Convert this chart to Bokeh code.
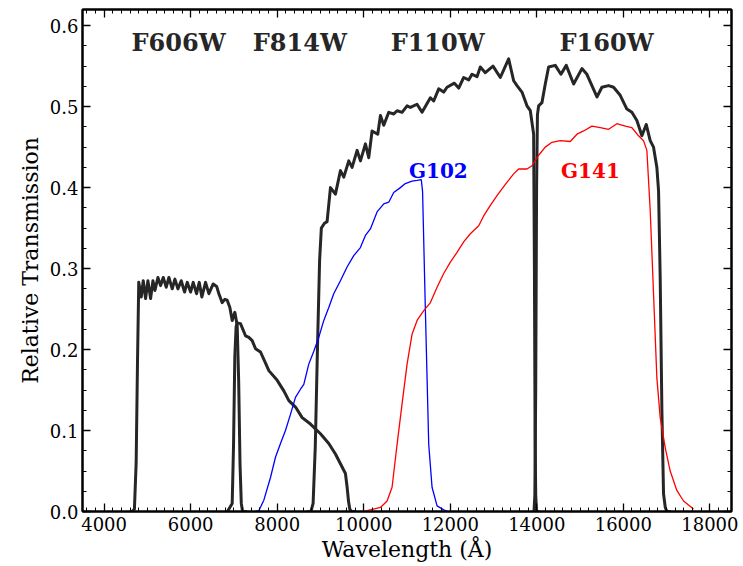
from bokeh.plotting import figure
from bokeh.models import Range1d, FixedTicker, LinearAxis, PrintfTickFormatter, CustomJSTickFormatter
from bokeh.core.properties import value
from bokeh.embed import file_html
from bokeh.resources import INLINE

# ---------------- data (wavelength in Angstrom, relative transmission) ----------------
f606w_wave = [4600, 4650, 4700, 4740, 4770, 4800, 4858, 4904, 4958, 5012, 5074, 5128, 5174,
              5243, 5305, 5366, 5436, 5497, 5574, 5636, 5705, 5782, 5859, 5921, 5998, 6059,
              6136, 6198, 6259, 6344, 6421, 6521, 6600, 6652, 6729, 6790, 6844, 6906, 6960,
              7021, 7075, 7110, 7140, 7170, 7200, 7300]
f606w_trans = [0, 0, 0.003, 0.06, 0.18, 0.283, 0.265, 0.285, 0.263, 0.285, 0.263, 0.285, 0.273,
               0.289, 0.279, 0.289, 0.277, 0.289, 0.275, 0.287, 0.275, 0.285, 0.271, 0.283, 0.271,
               0.283, 0.269, 0.283, 0.265, 0.283, 0.269, 0.281, 0.278, 0.269, 0.258, 0.262, 0.261,
               0.252, 0.236, 0.246, 0.23, 0.16, 0.06, 0.01, 0, 0]

f814w_wave = [6850, 6960, 6990, 7020, 7050, 7075, 7152, 7268, 7345, 7422, 7499, 7614, 7707,
              7807, 8000, 8153, 8269, 8423, 8577, 8769, 9000, 9192, 9346, 9500, 9577, 9616,
              9650, 9677, 9720, 9800]
f814w_trans = [0, 0.01, 0.08, 0.19, 0.228, 0.233, 0.232, 0.217, 0.215, 0.211, 0.201, 0.197, 0.186,
               0.174, 0.162, 0.149, 0.137, 0.129, 0.116, 0.108, 0.096, 0.084, 0.071, 0.055, 0.047,
               0.030, 0.012, 0.003, 0, 0]

f110w_wave = [8700, 8780, 8830, 8880, 8930, 8980, 9020, 9092, 9153, 9231, 9346, 9462, 9539,
              9654, 9731, 9847, 9924, 10039, 10116, 10193, 10324, 10386, 10463, 10578, 10694,
              10771, 10886, 11002, 11078, 11232, 11348, 11540, 11617, 11733, 11848, 11925,
              12095, 12195, 12310, 12426, 12502, 12618, 12695, 12810, 12988, 13157, 13349,
              13465, 13542, 13657, 13773, 13850, 13927, 13945, 13960, 13975, 13995, 14050]
f110w_trans = [0, 0, 0.01, 0.08, 0.20, 0.31, 0.350, 0.356, 0.358, 0.400, 0.392, 0.421, 0.413,
               0.433, 0.425, 0.446, 0.433, 0.454, 0.437, 0.470, 0.466, 0.489, 0.477, 0.493, 0.491,
               0.495, 0.493, 0.501, 0.499, 0.503, 0.493, 0.511, 0.507, 0.522, 0.518, 0.524,
               0.529, 0.523, 0.536, 0.533, 0.540, 0.537, 0.549, 0.542, 0.550, 0.536, 0.559,
               0.532, 0.526, 0.518, 0.501, 0.495, 0.466, 0.30, 0.10, 0.02, 0, 0]

f160w_wave = [13900, 13935, 13955, 13975, 13995, 14015, 14042, 14119, 14196, 14273, 14427, 14558,
              14681, 14851, 15043, 15158, 15390, 15505, 15659, 15774, 15928, 16082, 16198, 16313,
              16429, 16529, 16621, 16698, 16775, 16814, 16852, 16891, 16929, 16970, 17006, 17100]
f160w_trans = [0, 0, 0.02, 0.15, 0.40, 0.49, 0.501, 0.505, 0.528, 0.549, 0.551, 0.540,
               0.551, 0.528, 0.547, 0.540, 0.512, 0.524, 0.526, 0.524, 0.514, 0.497, 0.493, 0.483,
               0.464, 0.478, 0.458, 0.450, 0.425, 0.396, 0.289, 0.125, 0.022, 0.005, 0, 0]

g102_wave = [7500, 7575, 7691, 7845, 7960, 8076, 8191, 8307, 8422, 8538, 8615, 8730, 8846, 8961,
             9077, 9192, 9307, 9461, 9615, 9769, 9923, 10039, 10154, 10308, 10462, 10578, 10693,
             10847, 10962, 11117, 11232, 11330, 11360, 11425, 11502, 11579, 11695, 11849, 11950]
g102_trans = [0, 0.001, 0.014, 0.042, 0.067, 0.084, 0.100, 0.120, 0.141, 0.151, 0.157, 0.182,
              0.198, 0.215, 0.236, 0.252, 0.269, 0.285, 0.302, 0.316, 0.326, 0.341, 0.349, 0.370,
              0.380, 0.382, 0.394, 0.400, 0.405, 0.408, 0.409, 0.410, 0.395, 0.248, 0.083, 0.030,
              0.007, 0.002, 0]

g141_wave = [10001, 10386, 10540, 10655, 10771, 10886, 11002, 11117, 11233, 11387, 11541, 11695,
             11848, 12002, 12156, 12310, 12464, 12657, 12772, 12926, 13080, 13273, 13465, 13580,
             13773, 13889, 14042, 14196, 14350, 14543, 14774, 14928, 15082, 15274, 15467, 15659,
             15851, 16044, 16198, 16352, 16467, 16544, 16621, 16698, 16775, 16852, 16968, 17083,
             17237, 17391, 17622]
g141_trans = [0, 0.005, 0.013, 0.030, 0.083, 0.133, 0.182, 0.219, 0.236, 0.248, 0.258, 0.277,
              0.294, 0.308, 0.320, 0.333, 0.343, 0.353, 0.365, 0.378, 0.390, 0.404, 0.417, 0.423,
              0.423, 0.427, 0.440, 0.450, 0.456, 0.458, 0.457, 0.466, 0.470, 0.476, 0.474, 0.472,
              0.479, 0.476, 0.474, 0.464, 0.458, 0.446, 0.372, 0.269, 0.165, 0.116, 0.079, 0.050,
              0.026, 0.013, 0.003]

filter_labels = ["F606W", "F814W", "F110W", "F160W"]
filter_label_x = [5720, 8522, 11709, 15612]
filter_label_y = [0.579, 0.579, 0.579, 0.579]

grism_labels = ["G102", "G141"]
grism_label_x = [11725, 15239]
grism_label_y = [0.420, 0.420]

x_major = [4000, 6000, 8000, 10000, 12000, 14000, 16000, 18000]
x_minor = list(range(3600, 18500, 200))
y_major = [0.0, 0.1, 0.2, 0.3, 0.4, 0.5, 0.6]
y_minor = [i * 0.025 for i in range(0, 25)]

# ---------------- figure ----------------
DARK = "#262626"
SERIF = "DejaVu Serif"
AX_FONT = "'DejaVu Serif', serif"

p = figure(frame_width=649, frame_height=502, x_range=Range1d(3500, 18500), y_range=Range1d(0, 0.62),
           output_backend="svg", toolbar_location=None,
           min_border_left=82, min_border_right=12, min_border_top=9, min_border_bottom=55)
p.xgrid.visible = False
p.ygrid.visible = False
p.outline_line_color = "black"
p.outline_line_width = 2
p.background_fill_color = "white"
p.border_fill_color = "white"

for w, t in [(f606w_wave, f606w_trans), (f814w_wave, f814w_trans),
             (f110w_wave, f110w_trans), (f160w_wave, f160w_trans)]:
    p.line(w, t, line_color=DARK, line_width=3, line_join="round")
p.line(g102_wave, g102_trans, line_color="#0000ff", line_width=1.3)
p.line(g141_wave, g141_trans, line_color="#ff0000", line_width=1.3)

p.text(x=filter_label_x, y=filter_label_y, text=filter_labels, text_color=DARK,
       text_font=value(SERIF), text_align="center", text_baseline="alphabetic",
       text_font_size="24px", text_font_style="bold")
p.text(x=grism_label_x[:1], y=grism_label_y[:1], text=grism_labels[:1], text_color="#0000ff",
       text_font=value(SERIF), text_align="center", text_baseline="alphabetic",
       text_font_size="20px", text_font_style="bold")
p.text(x=grism_label_x[1:], y=grism_label_y[1:], text=grism_labels[1:], text_color="#ff0000",
       text_font=value(SERIF), text_align="center", text_baseline="alphabetic",
       text_font_size="20px", text_font_style="bold")

def style_axis(ax, show_labels):
    ax.axis_line_color = "black"
    ax.axis_line_width = 2
    ax.major_tick_in = 8
    ax.major_tick_out = 0
    ax.minor_tick_in = 4
    ax.minor_tick_out = 0
    ax.major_tick_line_color = "black"
    ax.minor_tick_line_color = "black"
    ax.major_tick_line_width = 1.3
    ax.minor_tick_line_width = 1
    if show_labels:
        ax.major_label_text_font = AX_FONT
        ax.major_label_text_font_size = "18px"
        ax.major_label_text_font_style = "normal"
        ax.major_label_text_color = "black"
        ax.axis_label_text_font = AX_FONT
        ax.axis_label_text_font_size = "22px"
        ax.axis_label_text_font_style = "normal"
        ax.axis_label_text_color = "black"
    else:
        ax.formatter = CustomJSTickFormatter(code="return ''")
        ax.major_label_standoff = 0
        ax.axis_label_standoff = 0

p.xaxis.ticker = FixedTicker(ticks=x_major, minor_ticks=x_minor)
p.yaxis.ticker = FixedTicker(ticks=y_major, minor_ticks=y_minor)
p.xaxis.axis_label = "Wavelength (Å)"
p.yaxis.axis_label = "Relative Transmission"
p.yaxis.formatter = PrintfTickFormatter(format="%.1f")
style_axis(p.xaxis[0], True)
style_axis(p.yaxis[0], True)
p.xaxis.major_label_standoff = 5
p.xaxis.axis_label_standoff = 3
p.yaxis.major_label_standoff = 4
p.yaxis.axis_label_standoff = 4

top = LinearAxis(ticker=FixedTicker(ticks=x_major, minor_ticks=x_minor))
right = LinearAxis(ticker=FixedTicker(ticks=y_major, minor_ticks=y_minor))
style_axis(top, False)
style_axis(right, False)
p.add_layout(top, "above")
p.add_layout(right, "right")

open("out.html", "w").write(file_html(p, INLINE))
